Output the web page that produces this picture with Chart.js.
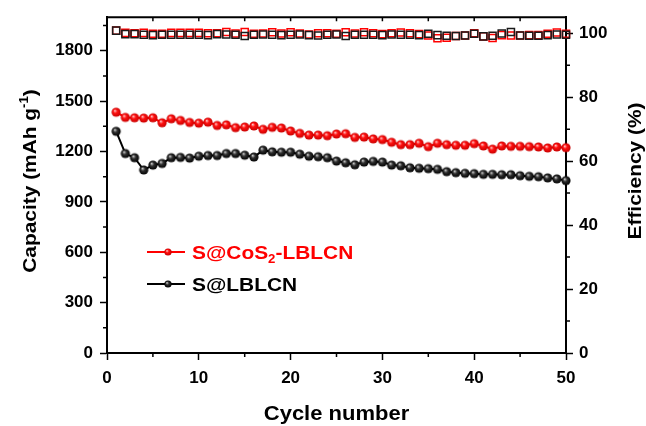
<!DOCTYPE html>
<html>
<head>
<meta charset="utf-8">
<script src="https://cdn.jsdelivr.net/npm/chart.js@4"></script>
<style>
html, body { margin: 0; padding: 0; background: #fff; }
#wrap { width: 646px; height: 426px; }
</style>
</head>
<body>
<div id="wrap"><canvas id="cycling" width="646" height="426"></canvas></div>
<script>
// DATA

var cycles = [1,2,3,4,5,6,7,8,9,10,11,12,13,14,15,16,17,18,19,20,21,22,23,24,25,
              26,27,28,29,30,31,32,33,34,35,36,37,38,39,40,41,42,43,44,45,46,47,48,49,50];

var capCoS2 = [1434,1403,1401,1399,1401,1371,1395,1385,1373,1369,1375,1355,1359,1342,1346,1352,1332,1344,1340,1322,1308,1298,1298,1294,1304,
               1306,1284,1286,1275,1271,1255,1241,1241,1249,1229,1249,1241,1237,1237,1247,1233,1214,1233,1231,1231,1229,1227,1221,1227,1223];

var capBare = [1320,1188,1163,1090,1119,1129,1163,1165,1161,1172,1176,1176,1188,1188,1178,1167,1208,1198,1196,1196,1184,1172,1169,1163,1143,
               1133,1121,1137,1141,1137,1119,1115,1103,1100,1098,1094,1080,1074,1070,1068,1064,1064,1062,1062,1056,1052,1050,1043,1037,1027];

var effCoS2 = [100.8,100.1,100.0,100.1,99.8,99.8,100.1,100.1,100.1,100.1,100.0,100.0,100.4,99.9,100.4,99.8,99.9,100.3,99.9,100.3,99.9,99.6,100.0,100.0,99.8,
               100.3,99.9,100.3,100.0,99.7,100.0,100.2,100.0,99.7,99.3,98.4,98.6,99.1,99.3,100.0,99.0,98.5,99.4,99.3,99.3,99.4,99.4,99.8,100.2,99.8];

var effBare = [100.8,99.7,99.7,99.5,99.4,99.5,99.5,99.5,99.5,99.5,99.4,99.7,99.6,99.5,99.1,99.5,99.6,99.5,99.4,99.5,99.6,99.4,99.3,99.5,99.6,
               99.1,99.5,99.5,99.5,99.4,99.6,99.5,99.5,99.4,99.8,99.4,99.2,99.1,99.3,99.8,99.0,99.2,99.9,100.4,99.3,99.2,99.2,99.4,99.6,99.5];

var seriesNames = ['S@CoS2-LBLCN', 'S@LBLCN'];


// HELPERS

var FAM = '"Liberation Sans", Arial, sans-serif';

function pairs(xs, ys) {
    return xs.map(function(x, i) { return {x: x, y: ys[i]}; });
}

// little shaded ball used as the marker
function ball(r, hi, mid, edge) {
    var c = document.createElement('canvas');
    var s = Math.ceil(r * 2) + 2;
    c.width = s; c.height = s;
    var g = c.getContext('2d');
    var cx = s / 2, cy = s / 2;
    var grad = g.createRadialGradient(cx - r * 0.3, cy - r * 0.35, r * 0.05, cx, cy, r);
    grad.addColorStop(0, hi);
    grad.addColorStop(0.4, mid);
    grad.addColorStop(1, edge);
    g.fillStyle = grad;
    g.beginPath(); g.arc(cx, cy, r, 0, Math.PI * 2); g.fill();
    return c;
}

var redBall = ball(4.6, '#ffc8c8', '#ff1010', '#c80000');
var blackBall = ball(4.6, '#d0d0d0', '#303030', '#000000');
var redBallSmall = ball(3.6, '#ffc8c8', '#ff1010', '#c80000');
var blackBallSmall = ball(3.6, '#d0d0d0', '#303030', '#000000');

// text in pieces (sub/superscripts), stretched a bit sideways like the original
function richText(ctx, segs, x, y, align, rot) {
    ctx.save();
    ctx.translate(x, y);
    if (rot) ctx.rotate(rot);
    ctx.scale(1.1, 1);
    var total = 0;
    segs.forEach(function(s) {
        ctx.font = 'bold ' + s.size + 'px ' + FAM;
        s.w = ctx.measureText(s.t).width;
        total += s.w;
    });
    var cur = align === 'center' ? -total / 2 : 0;
    ctx.textBaseline = 'alphabetic';
    ctx.textAlign = 'left';
    segs.forEach(function(s) {
        ctx.font = 'bold ' + s.size + 'px ' + FAM;
        ctx.fillText(s.t, cur, s.dy || 0);
        cur += s.w;
    });
    ctx.restore();
}

// frame, minor ticks, titles and the in-plot legend
var decor = {
    id: 'decor',
    afterDraw: function(chart) {
        var ctx = chart.ctx, a = chart.chartArea;
        var sx = chart.scales.x, sy = chart.scales.y, sy1 = chart.scales.y1;
        var i, p;
        ctx.save();
        ctx.strokeStyle = '#000';
        ctx.lineWidth = 2;

        ctx.beginPath();
        ctx.moveTo(a.left - 1, a.top);
        ctx.lineTo(a.right + 1, a.top);
        ctx.stroke();

        ctx.lineWidth = 1.5;
        ctx.beginPath();
        for (i = 5; i < 50; i += 5) {
            p = sx.getPixelForValue(i);
            ctx.moveTo(p, a.top); ctx.lineTo(p, a.top + 4);
        }
        for (i = 5; i < 50; i += 10) {
            p = sx.getPixelForValue(i);
            ctx.moveTo(p, a.bottom); ctx.lineTo(p, a.bottom + 4);
        }
        for (i = 150; i < 2000; i += 300) {
            p = sy.getPixelForValue(i);
            ctx.moveTo(a.left, p); ctx.lineTo(a.left - 4, p);
        }
        for (i = 10; i < 105; i += 20) {
            p = sy1.getPixelForValue(i);
            ctx.moveTo(a.right, p); ctx.lineTo(a.right + 4, p);
        }
        ctx.stroke();

        // axis titles
        ctx.fillStyle = '#000';
        richText(ctx, [{t: 'Cycle number', size: 20}], (a.left + a.right) / 2, 420, 'center');
        richText(ctx, [{t: 'Capacity (mAh g', size: 19}, {t: '-1', size: 12, dy: -8}, {t: ')', size: 19}],
                 36, 181, 'center', -Math.PI / 2);
        richText(ctx, [{t: 'Efficiency (%)', size: 19}], 641, 171, 'center', -Math.PI / 2);

        // legend
        var rows = [
            {y: 252, color: '#ff0000', img: redBallSmall,
             segs: [{t: 'S@CoS', size: 19}, {t: '2', size: 12, dy: 4}, {t: '-LBLCN', size: 19}]},
            {y: 284, color: '#000000', img: blackBallSmall, segs: [{t: seriesNames[1], size: 19}]}
        ];
        rows.forEach(function(r) {
            ctx.strokeStyle = r.color;
            ctx.lineWidth = 2;
            ctx.beginPath(); ctx.moveTo(147, r.y); ctx.lineTo(185, r.y); ctx.stroke();
            ctx.drawImage(r.img, 168 - r.img.width / 2, r.y - r.img.height / 2);
            ctx.fillStyle = r.color;
            richText(ctx, r.segs, 192, r.y + 7, 'left');
        });
        ctx.restore();
    }
};

var tickFont = {family: FAM, size: 17, weight: 'bold'};
function plain(v) { return String(v); }

var chart = new Chart(document.getElementById('cycling').getContext('2d'), {
    type: 'line',
    data: {
        datasets: [{
            label: seriesNames[0],
            data: pairs(cycles, capCoS2),
            yAxisID: 'y',
            borderColor: '#ff0000',
            borderWidth: 2,
            pointStyle: redBall,
            pointRadius: 4.6,
            clip: false
        }, {
            label: seriesNames[1],
            data: pairs(cycles, capBare),
            yAxisID: 'y',
            borderColor: '#000000',
            borderWidth: 2,
            pointStyle: blackBall,
            pointRadius: 4.6,
            clip: false
        }, {
            label: seriesNames[1] + ' efficiency',
            data: pairs(cycles, effBare),
            yAxisID: 'y1',
            showLine: false,
            pointStyle: 'rect',
            pointRadius: 5,
            pointBorderWidth: 1.5,
            pointBorderColor: '#1a1a1a',
            pointBackgroundColor: 'rgba(0,0,0,0)',
            clip: false
        }, {
            label: seriesNames[0] + ' efficiency',
            data: pairs(cycles, effCoS2),
            yAxisID: 'y1',
            showLine: false,
            pointStyle: 'rect',
            pointRadius: 5,
            pointBorderWidth: 1.5,
            pointBorderColor: '#ff0000',
            pointBackgroundColor: 'rgba(0,0,0,0)',
            clip: false
        }]
    },
    options: {
        responsive: false,
        animation: false,
        devicePixelRatio: 1,
        layout: {padding: {top: 14, left: 0, right: 0, bottom: 0}},
        plugins: {legend: {display: false}, tooltip: {enabled: false}},
        scales: {
            x: {
                type: 'linear',
                min: 0, max: 50,
                afterFit: function(s) { s.height = 73; },
                border: {display: true, color: '#000', width: 2},
                grid: {drawOnChartArea: false, tickLength: 7, tickWidth: 1.5, tickColor: '#000'},
                ticks: {stepSize: 10, padding: 8, color: '#000', font: tickFont, maxRotation: 0, callback: plain}
            },
            y: {
                position: 'left',
                min: 0, max: 2000,
                afterFit: function(s) { s.width = 107; },
                border: {display: true, color: '#000', width: 2},
                grid: {drawOnChartArea: false, tickLength: 7, tickWidth: 1.5, tickColor: '#000'},
                ticks: {stepSize: 300, includeBounds: false, padding: 7, color: '#000', font: tickFont, callback: plain}
            },
            y1: {
                position: 'right',
                min: 0, max: 105,
                afterFit: function(s) { s.width = 80; },
                border: {display: true, color: '#000', width: 2},
                grid: {drawOnChartArea: false, tickLength: 7, tickWidth: 1.5, tickColor: '#000'},
                ticks: {stepSize: 20, includeBounds: false, padding: 6, color: '#000', font: tickFont, callback: plain}
            }
        }
    },
    plugins: [decor]
});
</script>
</body>
</html>
